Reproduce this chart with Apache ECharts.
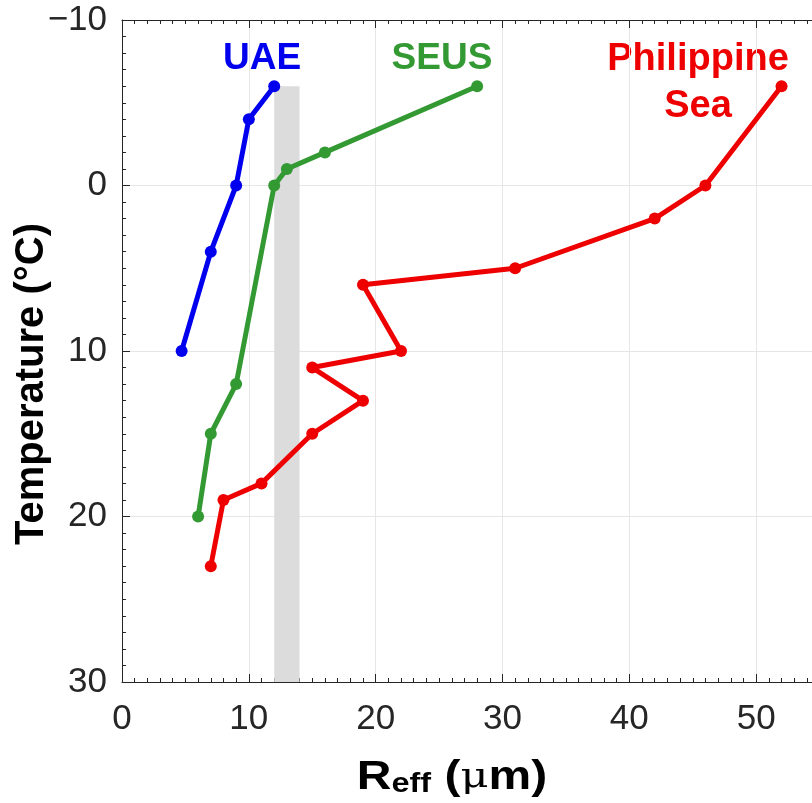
<!DOCTYPE html>
<html>
<head>
<meta charset="utf-8">
<script src="https://cdn.jsdelivr.net/npm/echarts@6/dist/echarts.min.js"></script>
<style>
html,body{margin:0;padding:0;overflow:hidden;background:#fff;width:812px;height:803px;}
#chart{width:900px;height:803px;}
</style>
</head>
<body>
<div id="chart"></div>
<script>
// Data (x = Reff in µm, y = temperature in °C)
const uaeData = [[12,-6],[10,-4],[9,0],[7,4],[4.7,10]];
const seusData = [[28,-6],[16,-2],[13,-1],[12,0],[9,12],[7,15],[6,20]];
const phlData = [[52,-6],[46,0],[42,2],[31,5],[19,6],[22,10],[15,11],[19,13],[15,15],[11,18],[8,19],[7,23]];
const seriesNames = ['UAE','SEUS','Philippine\nSea'];
const bandX = [12,14];
const bandTopY = -6;
const xTicks = [0,10,20,30,40,50,60];
const yTicks = [-10,0,10,20,30];
const yTitle = 'Temperature (°C)';

const colors = ['#0000ee','#339933','#ee0000'];
const chart = echarts.init(document.getElementById('chart'));
const axisColor = '#262626';
const fmt = v => String(v).replace('-', '\u2212');

function lineSeries(name, data, color){
  return {
    name: name, type:'line', data: data, z:3,
    lineStyle:{color: color, width:5},
    itemStyle:{color: color},
    symbol:'circle', symbolSize:12, showSymbol:true,
    animation:false
  };
}

const option = {
  animation:false,
  grid:{left:122, top:20, width:761, height:662, containLabel:false, outerBoundsMode:'none'},
  xAxis:[{
    type:'value', min:xTicks[0], max:xTicks[xTicks.length-1], interval:10,
    axisLine:{show:true, onZero:false, lineStyle:{color:axisColor, width:1}},
    axisTick:{show:true, inside:true, length:8, lineStyle:{color:axisColor}},
    minorTick:{show:true, splitNumber:10, length:4, lineStyle:{color:axisColor}},
    splitLine:{show:true, lineStyle:{color:'#e6e6e6', width:1}},
    axisLabel:{fontSize:35, color:'#262626', margin:20, fontFamily:'Liberation Sans, Arial', formatter:fmt}
  },{
    type:'value', position:'top', min:xTicks[0], max:xTicks[xTicks.length-1], interval:10,
    axisLine:{show:true, onZero:false, lineStyle:{color:axisColor, width:1}},
    axisTick:{show:true, inside:true, length:8, lineStyle:{color:axisColor}},
    minorTick:{show:true, splitNumber:10, length:4, lineStyle:{color:axisColor}},
    splitLine:{show:false}, axisLabel:{show:false}
  }],
  yAxis:{
    type:'value', inverse:true, min:yTicks[0], max:yTicks[yTicks.length-1], interval:10,
    axisLine:{show:true, onZero:false, lineStyle:{color:axisColor, width:1}},
    axisTick:{show:true, inside:true, length:8, lineStyle:{color:axisColor}},
    minorTick:{show:true, splitNumber:10, length:4, lineStyle:{color:axisColor}},
    splitLine:{show:true, lineStyle:{color:'#e6e6e6', width:1}},
    axisLabel:{fontSize:35, color:'#262626', margin:15, fontFamily:'Liberation Sans, Arial', formatter:fmt}
  },
  series:[
    {
      type:'line', data:[], z:1, silent:true,
      markArea:{silent:true, itemStyle:{color:'#dcdcdc'},
        data:[[{coord:[bandX[0], bandTopY]},{coord:[bandX[1], yTicks[yTicks.length-1]]}]]}
    },
    lineSeries(seriesNames[0], uaeData, colors[0]),
    lineSeries(seriesNames[1], seusData, colors[1]),
    lineSeries(seriesNames[2], phlData, colors[2])
  ],
  graphic:[
    {type:'text', x:262, y:59, style:{text:seriesNames[0], fill:colors[0], font:'bold 37px "Liberation Sans", Arial', textAlign:'center', textVerticalAlign:'middle'}},
    {type:'text', x:442, y:59, style:{text:seriesNames[1], fill:colors[1], font:'bold 37px "Liberation Sans", Arial', textAlign:'center', textVerticalAlign:'middle'}},
    {type:'text', x:698, y:83, style:{text:seriesNames[2], fill:colors[2], font:'bold 38px "Liberation Sans", Arial', textAlign:'center', textVerticalAlign:'middle', lineHeight:47}},
    {type:'text', x:32, y:384, rotation:Math.PI/2, style:{text:yTitle, fill:'#000', font:'bold 40px "Liberation Sans", Arial', textAlign:'center', textVerticalAlign:'middle'}},
    {type:'text', x:452, y:778, scaleX:1.2, style:{
      text:'{r|R}{s|eff}{r| (}{m|μ}{r|m)}', textAlign:'center', textVerticalAlign:'middle',
      rich:{
        r:{font:'bold 40px "Liberation Sans", Arial', fill:'#000'},
        s:{font:'bold 27px "Liberation Sans", Arial', fill:'#000', padding:[14,0,0,0]},
        m:{font:'36px "DejaVu Serif", serif', fill:'#000'}
      }}}
  ]
};
chart.setOption(option);
</script>
</body>
</html>
